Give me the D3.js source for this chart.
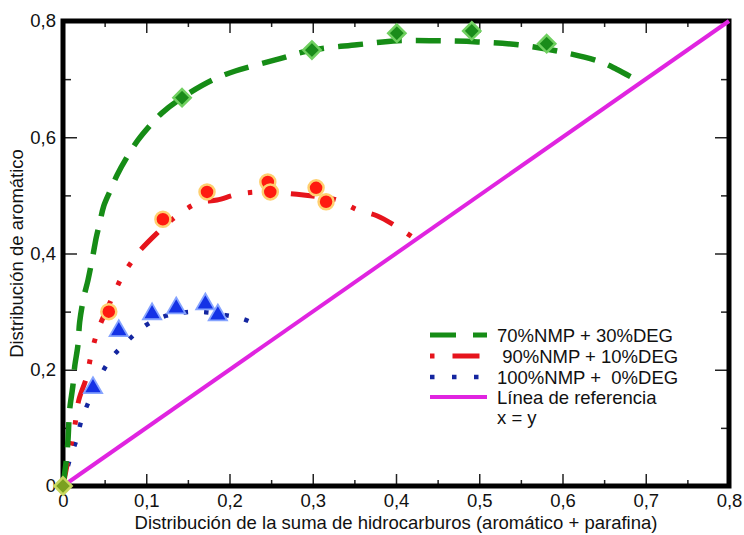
<!DOCTYPE html>
<html>
<head>
<meta charset="utf-8">
<script src="https://cdn.jsdelivr.net/npm/d3@7"></script>
<style>
  html, body { margin: 0; padding: 0; background: #fff; }
  svg { display: block; }
  text { font-family: "Liberation Sans", Arial, Helvetica, sans-serif; fill: #111; }
</style>
</head>
<body>
<svg id="chart" width="744" height="535"></svg>
<script>
// Axis ticks (comma decimal labels)
const xTicks = [0, 0.1, 0.2, 0.3, 0.4, 0.5, 0.6, 0.7, 0.8];
const yTicks = [0, 0.2, 0.4, 0.6, 0.8];
const xTickLabels = ["0", "0,1", "0,2", "0,3", "0,4", "0,5", "0,6", "0,7", "0,8"];
const yTickLabels = ["0", "0,2", "0,4", "0,6", "0,8"];

// Measured points: 70%NMP + 30%DEG (diamonds)
const nmp70X = [0, 0.143, 0.299, 0.401, 0.491, 0.581];
const nmp70Y = [0, 0.668, 0.750, 0.779, 0.783, 0.761];
// Fitted curve: 70%NMP + 30%DEG
const nmp70CurveX = [0, 0.004, 0.006, 0.008, 0.012, 0.014, 0.018, 0.020, 0.025, 0.030, 0.036, 0.040, 0.044, 0.049, 0.057, 0.065, 0.077, 0.090, 0.105, 0.119, 0.143, 0.179, 0.207, 0.255, 0.299, 0.353, 0.402, 0.450, 0.498, 0.547, 0.595, 0.643, 0.665, 0.691];
const nmp70CurveY = [0, 0.045, 0.079, 0.131, 0.174, 0.205, 0.243, 0.282, 0.325, 0.354, 0.397, 0.428, 0.452, 0.482, 0.509, 0.535, 0.566, 0.595, 0.621, 0.642, 0.668, 0.698, 0.714, 0.733, 0.750, 0.759, 0.766, 0.766, 0.764, 0.759, 0.748, 0.731, 0.717, 0.697];

// Measured points: 90%NMP + 10%DEG (circles)
const nmp90X = [0.055, 0.120, 0.173, 0.246, 0.249, 0.304, 0.316];
const nmp90Y = [0.300, 0.459, 0.506, 0.523, 0.506, 0.513, 0.489];
// Fitted curve: 90%NMP + 10%DEG
const nmp90CurveX = [0, 0.008, 0.014, 0.019, 0.028, 0.035, 0.043, 0.055, 0.072, 0.084, 0.090, 0.113, 0.135, 0.162, 0.185, 0.210, 0.238, 0.281, 0.309, 0.329, 0.354, 0.377, 0.401, 0.425];
const nmp90CurveY = [0, 0.059, 0.102, 0.148, 0.186, 0.234, 0.272, 0.311, 0.363, 0.389, 0.401, 0.435, 0.463, 0.487, 0.492, 0.502, 0.506, 0.502, 0.497, 0.492, 0.475, 0.465, 0.446, 0.423];

// Measured points: 100%NMP + 0%DEG (triangles)
const nmp100X = [0.036, 0.067, 0.107, 0.136, 0.171, 0.186];
const nmp100Y = [0.169, 0.267, 0.296, 0.306, 0.313, 0.294];
// Fitted curve: 100%NMP + 0%DEG
const nmp100CurveX = [0, 0.008, 0.017, 0.022, 0.036, 0.054, 0.070, 0.100, 0.124, 0.148, 0.171, 0.195, 0.217, 0.240];
const nmp100CurveY = [0, 0.045, 0.083, 0.112, 0.162, 0.212, 0.239, 0.277, 0.293, 0.299, 0.299, 0.294, 0.287, 0.272];

// Reference line x = y
const refX = [0, 0.8];
const refY = [0, 0.8];

const legendLabels = ["70%NMP + 30%DEG", " 90%NMP + 10%DEG", "100%NMP +  0%DEG", "Línea de referencia"];

const svg = d3.select("#chart");
const x = d3.scaleLinear().domain([0, 0.8]).range([63, 729]);
const y = d3.scaleLinear().domain([0, 0.8]).range([486, 21]);

const zip = (xs, ys) => xs.map((v, i) => [v, ys[i]]);
const line = d3.line().x(d => x(d[0])).y(d => y(d[1])).curve(d3.curveCatmullRom.alpha(0.5));
const straight = d3.line().x(d => x(d[0])).y(d => y(d[1]));

// Axes: ticks point inward on all four sides
const fmtX = d => xTickLabels[xTicks.findIndex(t => Math.abs(t - d) < 1e-9)];
const fmtY = d => yTickLabels[yTicks.findIndex(t => Math.abs(t - d) < 1e-9)];
const minorX = d3.range(0.05, 0.8, 0.1);
const minorYAll = [0.1, 0.3, 0.5, 0.7];
const FS = 18.5;

function styleAxis(g) {
  g.select(".domain").remove();
  g.selectAll(".tick line").attr("stroke", "#222").attr("stroke-width", 1.5);
  g.selectAll(".tick text").attr("font-size", FS).attr("fill", "#111")
    .attr("font-family", "'Liberation Sans', Arial, Helvetica, sans-serif");
}

svg.append("g").attr("transform", `translate(0,${y(0)})`)
  .call(d3.axisBottom(x).tickValues(xTicks).tickFormat(fmtX).tickSizeInner(-12).tickSizeOuter(0).tickPadding(8))
  .call(styleAxis);
svg.append("g").attr("transform", `translate(0,${y(0)})`)
  .call(d3.axisBottom(x).tickValues(minorX).tickFormat("").tickSizeInner(-6).tickSizeOuter(0))
  .call(styleAxis);
svg.append("g").attr("transform", `translate(0,${y(0.8)})`)
  .call(d3.axisTop(x).tickValues(xTicks).tickFormat("").tickSizeInner(-12).tickSizeOuter(0))
  .call(styleAxis);
svg.append("g").attr("transform", `translate(0,${y(0.8)})`)
  .call(d3.axisTop(x).tickValues(minorX).tickFormat("").tickSizeInner(-6).tickSizeOuter(0))
  .call(styleAxis);
svg.append("g").attr("transform", `translate(${x(0)},0)`)
  .call(d3.axisLeft(y).tickValues(yTicks).tickFormat(fmtY).tickSizeInner(-14).tickSizeOuter(0).tickPadding(7))
  .call(styleAxis);
svg.append("g").attr("transform", `translate(${x(0)},0)`)
  .call(d3.axisLeft(y).tickValues(minorYAll).tickFormat("").tickSizeInner(-8).tickSizeOuter(0))
  .call(styleAxis);
svg.append("g").attr("transform", `translate(${x(0.8)},0)`)
  .call(d3.axisRight(y).tickValues(yTicks).tickFormat("").tickSizeInner(-14).tickSizeOuter(0))
  .call(styleAxis);
svg.append("g").attr("transform", `translate(${x(0.8)},0)`)
  .call(d3.axisRight(y).tickValues(minorYAll).tickFormat("").tickSizeInner(-8).tickSizeOuter(0))
  .call(styleAxis);

// Plot frame
svg.append("rect")
  .attr("x", x(0)).attr("y", y(0.8))
  .attr("width", x(0.8) - x(0)).attr("height", y(0) - y(0.8))
  .attr("fill", "none").attr("stroke", "#000").attr("stroke-width", 5);

// Axis titles
svg.append("text").attr("x", (x(0) + x(0.8)) / 2).attr("y", 529)
  .attr("text-anchor", "middle").attr("font-size", FS)
  .text("Distribución de la suma de hidrocarburos (aromático + parafina)");
svg.append("text").attr("transform", `translate(23,${(y(0) + y(0.8)) / 2}) rotate(-90)`)
  .attr("text-anchor", "middle").attr("font-size", FS)
  .text("Distribución de aromático");

const plot = svg.append("g");

// Reference line
plot.append("path").attr("d", straight(zip(refX, refY)))
  .attr("fill", "none").attr("stroke", "#e024e0").attr("stroke-width", 4);

// Fitted curves
plot.append("path").attr("d", line(zip(nmp100CurveX, nmp100CurveY)))
  .attr("fill", "none").attr("stroke", "#1426a0").attr("stroke-width", 4.5)
  .attr("stroke-dasharray", "4.5,16");
plot.append("path").attr("d", line(zip(nmp90CurveX, nmp90CurveY)))
  .attr("fill", "none").attr("stroke", "#e6141c").attr("stroke-width", 5)
  .attr("stroke-dasharray", "24,17,4.5,17,4.5,17");
plot.append("path").attr("d", line(zip(nmp70CurveX, nmp70CurveY)))
  .attr("fill", "none").attr("stroke", "#168c16").attr("stroke-width", 5.5)
  .attr("stroke-dasharray", "25,14");

// Markers
plot.selectAll(".tri").data(zip(nmp100X, nmp100Y)).join("path")
  .attr("transform", d => `translate(${x(d[0])},${y(d[1])})`)
  .attr("d", d3.symbol(d3.symbolTriangle, 145)())
  .attr("fill", "#1432e6").attr("stroke", "#86a4ff").attr("stroke-width", 1.8);
plot.selectAll(".circ").data(zip(nmp90X, nmp90Y)).join("circle")
  .attr("cx", d => x(d[0])).attr("cy", d => y(d[1])).attr("r", 7.5)
  .attr("fill", "#ff1a10").attr("stroke", "#ffd070").attr("stroke-width", 2.5);
plot.selectAll(".dia").data(zip(nmp70X, nmp70Y)).join("path")
  .attr("transform", d => `translate(${x(d[0])},${y(d[1])})`)
  .attr("d", d3.symbol(d3.symbolDiamond2, 190)())
  .attr("fill", (d, i) => i === 0 ? "#7aa020" : "#1a8c1a")
  .attr("stroke", (d, i) => i === 0 ? "#c8d860" : "#70d060").attr("stroke-width", 2.5);

// Legend
const lg = svg.append("g");
const lgX0 = 430, lgX1 = 487, lgTextX = 497;
const rowsY = [335, 356, 377, 397];
const styles = [
  { stroke: "#168c16", width: 5, dash: "26,17" },
  { stroke: "#e6141c", width: 5, dash: "4.5,18,27,30" },
  { stroke: "#1426a0", width: 4.5, dash: "4.5,17.5" },
  { stroke: "#e024e0", width: 4, dash: null }
];
legendLabels.forEach((lab, i) => {
  lg.append("line").attr("x1", lgX0).attr("x2", lgX1).attr("y1", rowsY[i]).attr("y2", rowsY[i])
    .attr("stroke", styles[i].stroke).attr("stroke-width", styles[i].width)
    .attr("stroke-dasharray", styles[i].dash);
  lg.append("text").attr("x", lgTextX).attr("y", rowsY[i] + 6.5)
    .attr("font-size", FS).style("white-space", "pre").text(lab);
});
lg.append("text").attr("x", lgTextX).attr("y", 424).attr("font-size", FS).text("x = y");
</script>
</body>
</html>
